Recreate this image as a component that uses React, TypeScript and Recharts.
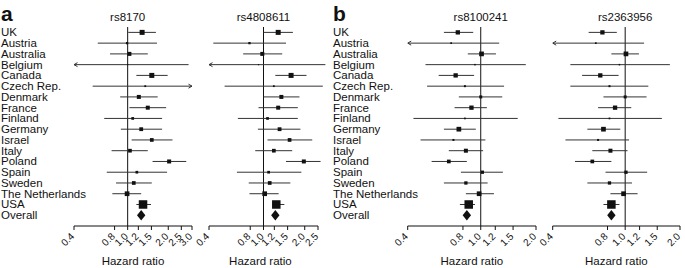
import React from "react";
import { ScatterChart, Scatter, XAxis, YAxis, ErrorBar, ReferenceLine } from "recharts";

// Study rows, top to bottom (last one is the pooled estimate)
const countries = [
  "UK", "Austria", "Australia", "Belgium", "Canada", "Czech Rep.", "Denmark", "France", "Finland",
  "Germany", "Israel", "Italy", "Poland", "Spain", "Sweden", "The Netherlands", "USA", "Overall",
];

// Hazard ratio with lower / upper 95% CI, one value per row above
const rs8170Hr = [1.28, 0.99, 1.03, 1.0, 1.51, 1.35, 1.21, 1.41, 1.09, 1.26, 1.51, 1.04, 2.03, 1.17, 1.11, 0.99, 1.3, 1.26];
const rs8170Lo = [1.01, 0.6, 0.74, 0.3, 1.16, 0.55, 0.88, 1.03, 0.67, 0.89, 1.07, 0.76, 1.53, 0.7, 0.82, 0.77, 1.16, 1.19];
const rs8170Hi = [1.62, 1.65, 1.41, 2.83, 1.98, 3.5, 1.67, 1.93, 1.8, 1.8, 2.15, 1.41, 2.72, 1.96, 1.51, 1.26, 1.49, 1.35];

const rs4808611Hr = [1.28, 0.79, 0.98, 0.92, 1.59, 1.19, 1.35, 1.28, 1.07, 1.31, 1.55, 1.19, 1.97, 1.09, 1.11, 1.02, 1.24, 1.22];
const rs4808611Lo = [1.0, 0.43, 0.71, 0.3, 1.22, 0.52, 1.0, 0.92, 0.65, 0.91, 1.07, 0.87, 1.46, 0.64, 0.78, 0.79, 1.16, 1.17];
const rs4808611Hi = [1.64, 1.46, 1.37, 2.83, 2.06, 2.71, 1.83, 1.78, 1.78, 1.86, 2.27, 1.62, 2.61, 1.89, 1.57, 1.29, 1.42, 1.34];

const rs8100241Hr = [0.75, 0.69, 1.01, 0.93, 0.73, 0.82, 1.0, 0.89, 0.82, 0.76, 0.71, 0.83, 0.67, 1.02, 0.83, 0.98, 0.86, 0.84];
const rs8100241Lo = [0.63, 0.3, 0.85, 0.5, 0.59, 0.51, 0.76, 0.72, 0.43, 0.63, 0.47, 0.67, 0.54, 0.78, 0.63, 0.83, 0.77, 0.8];
const rs8100241Hi = [0.91, 1.26, 1.21, 1.76, 0.92, 1.34, 1.31, 1.08, 1.59, 0.94, 1.06, 1.03, 0.84, 1.32, 1.09, 1.18, 0.93, 0.88];

const rs2363956Hr = [0.75, 0.69, 1.01, 0.93, 0.73, 0.82, 1.0, 0.88, 0.82, 0.76, 0.71, 0.83, 0.66, 1.01, 0.82, 0.98, 0.84, 0.84];
const rs2363956Lo = [0.63, 0.3, 0.84, 0.5, 0.58, 0.5, 0.76, 0.71, 0.43, 0.62, 0.47, 0.66, 0.53, 0.78, 0.62, 0.83, 0.76, 0.8];
const rs2363956Hi = [0.9, 1.27, 1.19, 1.76, 0.92, 1.34, 1.31, 1.08, 1.59, 0.94, 1.05, 1.03, 0.84, 1.32, 1.09, 1.17, 0.93, 0.88];

// relative study weights (box area), per analysis group
const weightA = [5, 2.3, 4, 1.2, 5, 1.8, 4, 4, 2.7, 3.8, 3.7, 3.7, 4, 2.7, 3.7, 4.7, 8.5];
const weightB = [4.3, 1.7, 4.7, 1.5, 4.3, 2, 3, 4.3, 1.7, 4.7, 2, 4, 3.7, 3.3, 3.3, 4.7, 8.5];

const ticksA1 = [0.4, 0.8, 1.0, 1.2, 1.5, 2.0, 2.5, 3.0];
const ticksA2 = [0.4, 0.8, 1.0, 1.2, 1.5, 2.0, 2.5];
const ticksB = [0.4, 0.8, 1.0, 1.2, 1.5, 2.0];

const rowTicks = countries.map((_, i) => i);
const INK = "#111";
const FONT = "'Liberation Sans', Arial, sans-serif";

function buildRows(hr: number[], lo: number[], hi: number[], weight: number[], dMin: number, dMax: number) {
  const n = countries.length - 1;
  const studies = [];
  const arrows = [];
  for (let i = 0; i < n; i++) {
    const l = Math.max(lo[i], dMin);
    const h = Math.min(hi[i], dMax);
    studies.push({ row: i, hr: hr[i], err: [hr[i] - l, h - hr[i]], w: weight[i] });
    if (lo[i] < dMin) arrows.push({ row: i, hr: dMin, dir: -1 });
    if (hi[i] > dMax) arrows.push({ row: i, hr: dMax, dir: 1 });
  }
  const overall = [{ row: n, hr: hr[n] }];
  return { studies, arrows, overall };
}

const Square = (p: any) => {
  const s = p.payload.w;
  return <rect x={p.cx - s / 2} y={p.cy - s / 2} width={s} height={s} fill={INK} />;
};

const Diamond = (p: any) => {
  const { cx, cy } = p;
  return <polygon points={`${cx - 4.2},${cy} ${cx},${cy - 5.3} ${cx + 4.2},${cy} ${cx},${cy + 5.3}`} fill={INK} />;
};

const Arrow = (p: any) => {
  const { cx, cy } = p;
  const d = p.payload.dir;
  return <path d={`M${cx - d * 3.5},${cy - 2} L${cx},${cy} L${cx - d * 3.5},${cy + 2}`} stroke="#333" fill="none" />;
};

const CountryTick = (p: any) => (
  <text x={1} y={p.y} dy={4} fontSize={11.5} fill={INK}>
    {countries[p.payload.value]}
  </text>
);

const HrTick = (p: any) => {
  const ax = p.x + 1;
  const ay = p.y + 5;
  return (
    <text x={ax} y={ay} transform={`rotate(-45 ${ax} ${ay})`} textAnchor="end" fontSize={10} fill={INK}>
      {Number(p.payload.value).toFixed(1)}
    </text>
  );
};

const panels = [
  { snp: "rs8170", hr: rs8170Hr, lo: rs8170Lo, hi: rs8170Hi, weight: weightA, ticks: ticksA1, dMax: 3.0, left: 0, width: 200, ml: 0, mr: 8, yw: 74, labels: true, dx: 0 },
  { snp: "rs4808611", hr: rs4808611Hr, lo: rs4808611Lo, hi: rs4808611Hi, weight: weightA, ticks: ticksA2, dMax: 2.85, left: 190, width: 145, ml: 19, mr: 9.2, yw: 0, labels: false, dx: -7 },
  { snp: "rs8100241", hr: rs8100241Hr, lo: rs8100241Lo, hi: rs8100241Hi, weight: weightB, ticks: ticksB, dMax: 2.0, left: 332, width: 212, ml: 0, mr: 8, yw: 75.7, labels: true, dx: 0 },
  { snp: "rs2363956", hr: rs2363956Hr, lo: rs2363956Lo, hi: rs2363956Hi, weight: weightB, ticks: ticksB, dMax: 2.0, left: 540, width: 145, ml: 12.7, mr: 5, yw: 0, labels: false, dx: 0 },
];

function ForestPanel({ cfg }: { cfg: (typeof panels)[number] }) {
  const { studies, arrows, overall } = buildRows(cfg.hr, cfg.lo, cfg.hi, cfg.weight, 0.4, cfg.dMax);
  const lastTick = cfg.ticks[cfg.ticks.length - 1];
  const fullAxis = lastTick === cfg.dMax;
  return (
    <div style={{ position: "absolute", left: cfg.left, top: 0 }}>
      <ScatterChart width={cfg.width} height={268} margin={{ top: 27, right: cfg.mr, bottom: 0, left: cfg.ml }}>
        <XAxis
          type="number"
          dataKey="hr"
          scale="log"
          domain={[0.4, cfg.dMax]}
          allowDataOverflow
          ticks={cfg.ticks}
          interval={0}
          height={42}
          tickSize={4}
          tickMargin={2}
          tick={(p: any) => <HrTick {...p} />}
          axisLine={fullAxis ? { stroke: INK } : false}
          tickLine={{ stroke: INK }}
          label={{ value: "Hazard ratio", position: "insideBottom", offset: 3, dx: cfg.dx, fontSize: 11.5, fill: INK }}
        />
        <YAxis
          type="number"
          dataKey="row"
          domain={[-0.5, 18]}
          reversed
          allowDataOverflow
          ticks={rowTicks}
          interval={0}
          width={cfg.yw}
          hide={!cfg.labels}
          axisLine={false}
          tickLine={false}
          tick={(p: any) => <CountryTick {...p} />}
        />
        <ReferenceLine
          x={1}
          stroke={INK}
          label={{ value: cfg.snp, position: "top", offset: 6, fontSize: 11.5, fill: INK }}
        />
        {!fullAxis && (
          <ReferenceLine
            segment={[{ x: 0.4, y: 18 }, { x: lastTick, y: 18 }]}
            stroke={INK}
          />
        )}
        <Scatter data={studies} shape={Square} isAnimationActive={false}>
          <ErrorBar dataKey="err" direction="x" width={0} stroke="#333" strokeWidth={1} isAnimationActive={false} />
        </Scatter>
        <Scatter data={arrows} shape={Arrow} isAnimationActive={false} />
        <Scatter data={overall} shape={Diamond} isAnimationActive={false} />
      </ScatterChart>
    </div>
  );
}

export default function App() {
  return (
    <div style={{ position: "absolute", left: 0, top: 0, width: 685, height: 268, fontFamily: FONT, background: "#fff" }}>
      <style>{`.recharts-surface{overflow:visible}`}</style>
      {panels.map((cfg) => (
        <ForestPanel key={cfg.snp} cfg={cfg} />
      ))}
      <svg width={685} height={268} style={{ position: "absolute", left: 0, top: 0, pointerEvents: "none" }}>
        <text x={1} y={20.5} fontSize={21} fontWeight="bold" fill={INK}>a</text>
        <text x={333} y={20.5} fontSize={21} fontWeight="bold" fill={INK}>b</text>
      </svg>
    </div>
  );
}
